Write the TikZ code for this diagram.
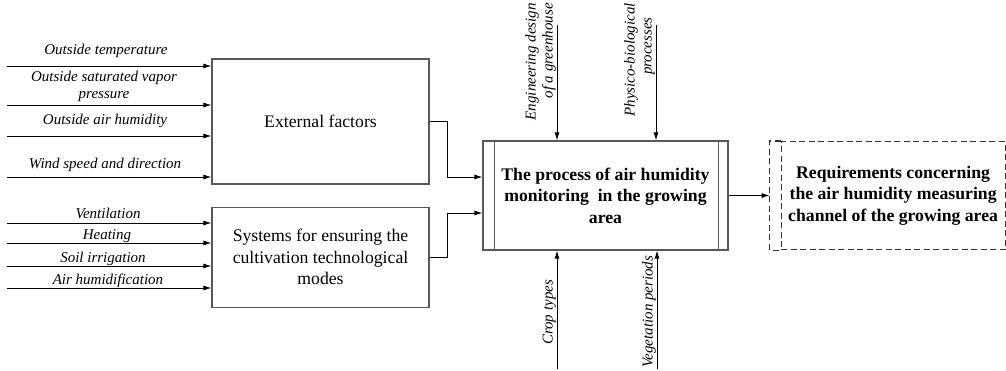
\documentclass[tikz,border=0pt]{standalone}
\usepackage{fontspec}
\setmainfont{Liberation Serif}
\usetikzlibrary{arrows.meta,positioning}

\begin{document}
\begin{tikzpicture}[
    x=1pt, y=-1pt,
    block/.style={rectangle, draw=black!65, line width=1.1pt, inner sep=0pt,
                  align=center, font=\fontsize{17.7}{21.5}\selectfont},
    process/.style={block, font=\fontsize{17.7}{21.5}\selectfont\bfseries},
    outbox/.style={process, draw=black!80, dash pattern=on 6pt off 3.5pt},
    factor/.style={inner sep=0pt, align=center, font=\fontsize{15}{17}\selectfont\itshape},
    vlabel/.style={factor, rotate=90, align=right},
    arrow/.style={-{Latex[length=8pt,width=5pt]}, line width=0.9pt}
]
\useasboundingbox (0,0) rectangle (1006,370);

% boxes
\node[block, minimum width=217pt, minimum height=125pt] (ext) at (320.5,121.5) {External factors};
\node[block, below=22pt of ext, minimum width=217pt, minimum height=100pt] (sys)
    {Systems for ensuring the\\cultivation technological\\modes};
\node[process, minimum width=245pt, minimum height=109pt] (proc) at (605.5,195.5)
    {The process of air humidity\\monitoring~ in the growing\\area};
\draw[draw=black!65, line width=1.1pt]
    ([xshift=12pt]proc.north west) -- ([xshift=12pt]proc.south west)
    ([xshift=-10pt]proc.north east) -- ([xshift=-10pt]proc.south east);
\node[outbox, right=52pt of proc, minimum width=224pt, minimum height=108pt] (req)
    {Requirements concerning\\the air humidity measuring\\channel of the growing area};
\draw[outbox] (req.north west) -- ++(-11,0) |- (req.south west);

% external factors
\node[factor, anchor=base] (temp) at (106,54) {Outside temperature};
\node[factor] (vapor) at (104,86) {Outside saturated vapor\\pressure};
\node[factor, anchor=base] (hum) at (105,124) {Outside air humidity};
\node[factor, anchor=base] (wind) at (105,168) {Wind speed and direction};
\coordinate (temp-in) at (7,66);
\coordinate (vapor-in) at (7,105);
\coordinate (hum-in) at (7,136);
\coordinate (wind-in) at (7,177);
\draw[arrow] (temp-in) -- (temp-in -| ext.west);
\draw[arrow] (vapor-in) -- (vapor-in -| ext.west);
\draw[arrow] (hum-in) -- (hum-in -| ext.west);
\draw[arrow] (wind-in) -- (wind-in -| ext.west);

% technological systems
\node[factor, anchor=base] (vent) at (108,218) {Ventilation};
\node[factor, anchor=base] (heat) at (107,239) {Heating};
\node[factor, anchor=base] (irrig) at (103,262) {Soil irrigation};
\node[factor, anchor=base] (humid) at (108,284) {Air humidification};
\coordinate (vent-in) at (7,223);
\coordinate (heat-in) at (7,243);
\coordinate (irrig-in) at (7,266);
\coordinate (humid-in) at (7,288);
\draw[arrow] (vent-in) -- (vent-in -| sys.west);
\draw[arrow] (heat-in) -- (heat-in -| sys.west);
\draw[arrow] (irrig-in) -- (irrig-in -| sys.west);
\draw[arrow] (humid-in) -- (humid-in -| sys.west);

% controls and mechanisms
\node[vlabel, anchor=south east] (eng) at (556,3) {Engineering design\\of a greenhouse};
\node[vlabel, anchor=south east] (phys) at (655,3) {Physico-biological\\processes\hspace*{14pt}};
\node[vlabel, anchor=south west] (crop) at (556,345) {Crop types};
\node[vlabel, anchor=south west] (veg) at (656,368) {Vegetation periods};
\coordinate (eng-in) at (557,25);
\coordinate (phys-in) at (656,25);
\coordinate (crop-in) at (557,369);
\coordinate (veg-in) at (657,369);
\draw[arrow] (eng-in) -- (eng-in |- proc.north);
\draw[arrow] (phys-in) -- (phys-in |- proc.north);
\draw[arrow] (crop-in) -- (crop-in |- proc.south);
\draw[arrow] (veg-in) -- (veg-in |- proc.south);

% links
\draw[arrow] (ext.east) -- ++(18,0) |- ([yshift=18.5pt]proc.west);
\draw[arrow] (sys.east) -- ++(18,0) |- ([yshift=-17.5pt]proc.west);
\draw[arrow] (proc.east) -- ([xshift=-11pt]req.west);
\end{tikzpicture}
\end{document}
